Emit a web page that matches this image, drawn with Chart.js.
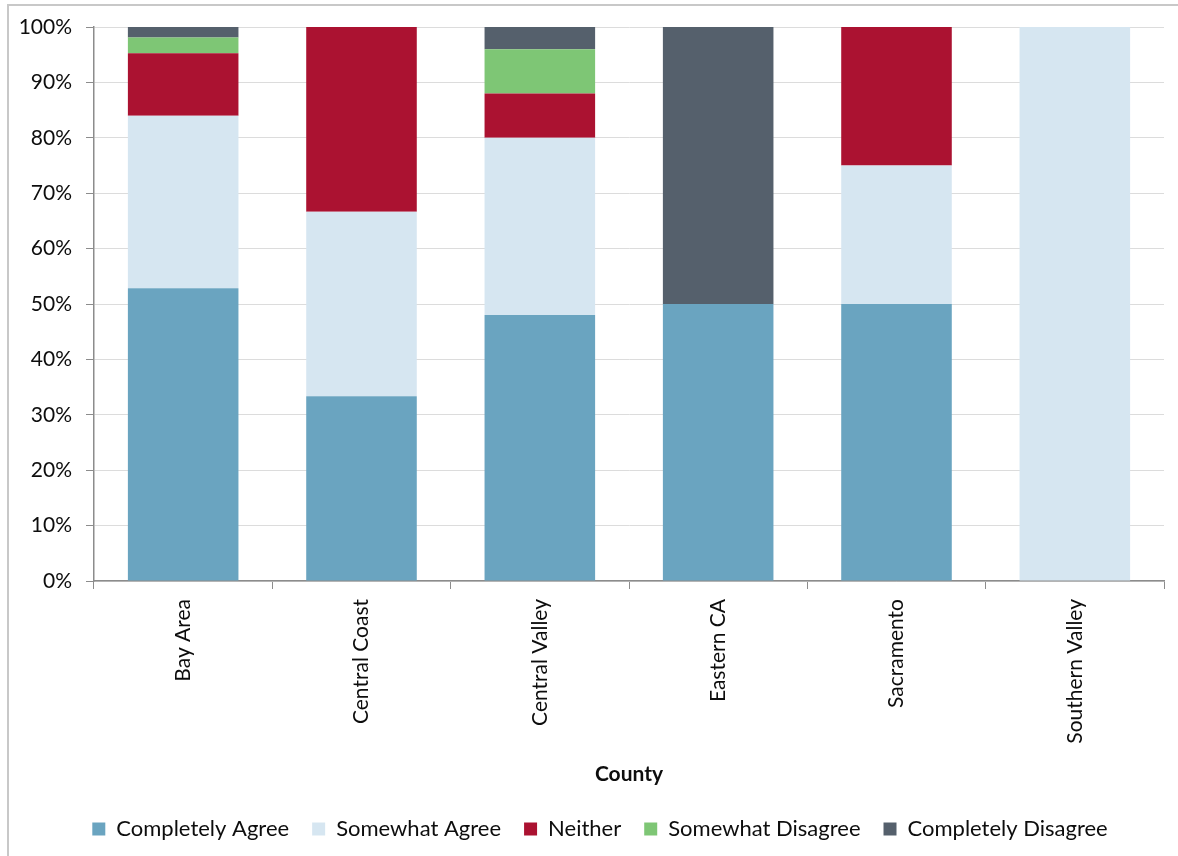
<!DOCTYPE html>
<html>
<head>
<meta charset="utf-8">
<script src="https://cdn.jsdelivr.net/npm/chart.js@4"></script>
<style>
  html, body { margin: 0; padding: 0; background: #fff; overflow: hidden; }
  #wrap { position: relative; width: 1178px; height: 856px; overflow: hidden; }
  #frame { position: absolute; left: 7px; top: 4px; right: 0; bottom: 0;
           border-left: 2px solid #c8c8c8; border-top: 2px solid #c8c8c8; }
  canvas { position: absolute; left: 0; top: 0; }
</style>
</head>
<body>
<div id="wrap">
  <div id="frame"></div>
  <canvas id="myChart" width="1178" height="880"></canvas>
</div>
<script>
// share of responses per region, in percent
var regions = ['Bay Area', 'Central Coast', 'Central Valley', 'Eastern CA', 'Sacramento', 'Southern Valley']
var completelyAgree    = [52.83, 33.33, 48, 50, 50, 0]
var somewhatAgree      = [31.13, 33.33, 32, 0, 25, 100]
var neither            = [11.32, 33.34, 8, 0, 25, 0]
var somewhatDisagree   = [2.83, 0, 8, 0, 0, 0]
var completelyDisagree = [1.89, 0, 4, 50, 0, 0]
var yTicks = [0, 10, 20, 30, 40, 50, 60, 70, 80, 90, 100]

var FONT = 'Lato, "Open Sans", sans-serif'
var TEXT = '#0d0d0d'

function series(label, data, color) {
  return {
    label: label,
    data: data,
    backgroundColor: color,
    borderWidth: 0,
    barPercentage: 0.62,
    categoryPercentage: 1.0
  }
}

// nudge the legend so it sits centred under the plot rather than the canvas
var legendShift = {
  id: 'legendShift',
  afterLayout: function (chart) {
    if (chart.legend) {
      chart.legend.left += 18
      chart.legend.right += 18
    }
  }
}

var ctx = document.getElementById('myChart').getContext('2d')
var chart = new Chart(ctx, {
  type: 'bar',
  data: {
    labels: regions,
    datasets: [
      series('Completely Agree', completelyAgree, '#6aa4c0'),
      series('Somewhat Agree', somewhatAgree, '#d6e6f1'),
      series('Neither', neither, '#ab1231'),
      series('Somewhat Disagree', somewhatDisagree, '#7ec675'),
      series('Completely Disagree', completelyDisagree, '#55606c')
    ]
  },
  plugins: [legendShift],
  options: {
    responsive: false,
    animation: false,
    layout: { padding: { left: 0, right: 14, top: 27, bottom: 30 } },
    plugins: {
      tooltip: { enabled: false },
      legend: {
        position: 'bottom',
        labels: {
          font: { family: FONT, size: 22 },
          color: TEXT,
          boxWidth: 13,
          boxHeight: 13,
          padding: 23
        }
      }
    },
    scales: {
      x: {
        stacked: true,
        grid: {
          offset: true,
          drawOnChartArea: false,
          tickLength: 8,
          tickColor: '#8c8c8c'
        },
        border: { color: '#8c8c8c', width: 1.5 },
        ticks: {
          minRotation: 90,
          maxRotation: 90,
          font: { family: FONT, size: 21 },
          color: TEXT,
          padding: 10
        },
        title: {
          display: true,
          text: 'County',
          font: { family: FONT, size: 21, weight: 'bold' },
          color: TEXT,
          padding: { top: 4, bottom: 8 }
        },
        afterFit: function (scale) { scale.height = 214 }
      },
      y: {
        stacked: true,
        min: 0,
        max: 100,
        afterBuildTicks: function (scale) {
          scale.ticks = yTicks.map(function (v) { return { value: v } })
        },
        grid: {
          color: '#dcdcdc',
          tickColor: '#8c8c8c',
          tickLength: 8
        },
        border: { color: '#8c8c8c', width: 1.5 },
        ticks: {
          font: { family: FONT, size: 21 },
          color: TEXT,
          padding: 14,
          callback: function (v) { return v + '%' }
        },
        afterFit: function (scale) { scale.width = 94 }
      }
    }
  }
})
</script>
</body>
</html>
